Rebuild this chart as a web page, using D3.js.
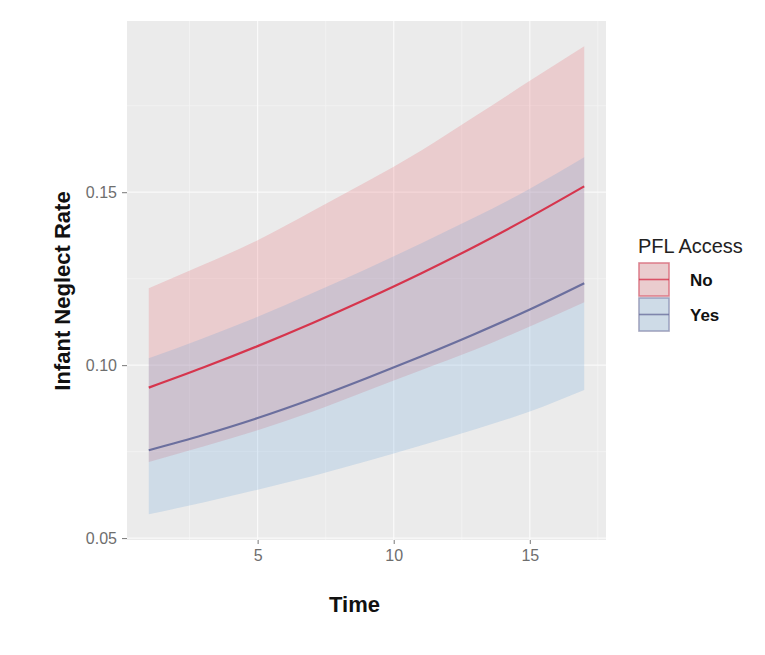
<!DOCTYPE html>
<html>
<head>
<meta charset="utf-8">
<script src="https://cdn.jsdelivr.net/npm/d3@7"></script>
<style>
  html, body { margin: 0; padding: 0; background: #ffffff; }
  svg { display: block; }
</style>
</head>
<body>
<svg id="chart" width="765" height="655"></svg>
<script>
// Time points of the model predictions
const times = [1, 3, 5, 7, 9, 11, 13, 15, 17];

// PFL Access = No : predicted rate and confidence band
const noFit   = [0.0935, 0.0993, 0.1055, 0.1121, 0.1191, 0.1265, 0.1344, 0.1428, 0.1517];
const noLower = [0.0720, 0.0765, 0.0812, 0.0865, 0.0925, 0.0985, 0.1045, 0.1112, 0.1182];
const noUpper = [0.1222, 0.1290, 0.1361, 0.1445, 0.1530, 0.1620, 0.1720, 0.1822, 0.1922];

// PFL Access = Yes : predicted rate and confidence band
const yesFit   = [0.0754, 0.0798, 0.0847, 0.0902, 0.0962, 0.1025, 0.1091, 0.1161, 0.1237];
const yesLower = [0.0569, 0.0603, 0.0640, 0.0679, 0.0722, 0.0768, 0.0815, 0.0866, 0.0928];
const yesUpper = [0.1020, 0.1078, 0.1140, 0.1208, 0.1278, 0.1352, 0.1428, 0.1510, 0.1601];

const groups = ["No", "Yes"];
const xTicks = [5, 10, 15];
const yTicks = [0.05, 0.10, 0.15];
const xMinor = [2.5, 7.5, 12.5, 17.5];
const yMinor = [0.075, 0.125, 0.175];

const lineColor = { No: "#d6354d", Yes: "#6b6f9e" };
const bandColor = { No: "#e8505b", Yes: "#5b9bd5" };

const series = [
  { key: "No",  fit: noFit,  lo: noLower,  hi: noUpper },
  { key: "Yes", fit: yesFit, lo: yesLower, hi: yesUpper }
];

const FONT = "'Liberation Sans', Arial, sans-serif";
const panel = { left: 127, right: 606, top: 21, bottom: 540 };
const svg = d3.select("#chart");

const x = d3.scaleLinear().domain([0.2, 17.8]).range([panel.left, panel.right]);
const y = d3.scaleLinear().domain([0.04945, 0.1995]).range([panel.bottom, panel.top]);

// Panel background
svg.append("rect")
  .attr("x", panel.left).attr("y", panel.top)
  .attr("width", panel.right - panel.left).attr("height", panel.bottom - panel.top)
  .attr("fill", "#ebebeb");

// Grid lines
const grid = svg.append("g");
grid.selectAll(".vmin").data(xMinor).join("line")
  .attr("x1", d => x(d)).attr("x2", d => x(d))
  .attr("y1", panel.top).attr("y2", panel.bottom)
  .attr("stroke", "#f4f4f4").attr("stroke-width", 0.8);
grid.selectAll(".hmin").data(yMinor).join("line")
  .attr("y1", d => y(d)).attr("y2", d => y(d))
  .attr("x1", panel.left).attr("x2", panel.right)
  .attr("stroke", "#f4f4f4").attr("stroke-width", 0.8);
grid.selectAll(".vmaj").data(xTicks).join("line")
  .attr("x1", d => x(d)).attr("x2", d => x(d))
  .attr("y1", panel.top).attr("y2", panel.bottom)
  .attr("stroke", "#fafafa").attr("stroke-width", 1.2);
grid.selectAll(".hmaj").data(yTicks).join("line")
  .attr("y1", d => y(d)).attr("y2", d => y(d))
  .attr("x1", panel.left).attr("x2", panel.right)
  .attr("stroke", "#fafafa").attr("stroke-width", 1.2);

// Confidence ribbons
const area = d3.area()
  .x(d => x(d.t)).y0(d => y(d.lo)).y1(d => y(d.hi))
  .curve(d3.curveMonotoneX);
const line = d3.line()
  .x(d => x(d.t)).y(d => y(d.v))
  .curve(d3.curveMonotoneX);

series.forEach(s => {
  const pts = times.map((t, i) => ({ t, lo: s.lo[i], hi: s.hi[i] }));
  svg.append("path").datum(pts)
    .attr("d", area)
    .attr("fill", bandColor[s.key]).attr("fill-opacity", 0.2);
});
series.forEach(s => {
  const pts = times.map((t, i) => ({ t, v: s.fit[i] }));
  svg.append("path").datum(pts)
    .attr("d", line)
    .attr("fill", "none")
    .attr("stroke", lineColor[s.key]).attr("stroke-width", 2.2);
});

// Axes
const xAxis = svg.append("g")
  .attr("transform", `translate(0,${panel.bottom})`)
  .call(d3.axisBottom(x).tickValues(xTicks).tickSize(4).tickPadding(6).tickFormat(d3.format("d")));
const yAxis = svg.append("g")
  .attr("transform", `translate(${panel.left},0)`)
  .call(d3.axisLeft(y).tickValues(yTicks).tickSize(5).tickPadding(5).tickFormat(d3.format(".2f")));
[xAxis, yAxis].forEach(a => {
  a.select(".domain").remove();
  a.selectAll(".tick line").attr("stroke", "#777777").attr("stroke-width", 1);
  a.selectAll(".tick text")
    .attr("fill", "#6e6e6e")
    .style("font-family", FONT)
    .style("font-size", "16px");
});

// Axis titles
svg.append("text")
  .attr("x", (panel.left + panel.right) / 2 - 12).attr("y", 612)
  .attr("text-anchor", "middle")
  .style("font-family", FONT)
  .style("font-size", "22px").style("font-weight", "bold")
  .attr("fill", "#111111")
  .text("Time");
svg.append("text")
  .attr("transform", `translate(70,${291}) rotate(-90)`)
  .attr("text-anchor", "middle")
  .style("font-family", FONT)
  .style("font-size", "22px").style("font-weight", "bold")
  .attr("fill", "#111111")
  .text("Infant Neglect Rate");

// Legend
const legend = svg.append("g").attr("transform", "translate(638,0)");
legend.append("text")
  .attr("x", 0).attr("y", 253)
  .style("font-family", FONT)
  .style("font-size", "20px")
  .attr("fill", "#222222")
  .text("PFL Access");

const keyY = d3.scaleBand().domain(groups).range([262, 332]);
groups.forEach(g => {
  const ky = keyY(g), kh = keyY.bandwidth();
  const key = legend.append("g");
  key.append("rect")
    .attr("x", 0).attr("y", ky).attr("width", 32).attr("height", kh)
    .attr("fill", "#ebebeb");
  key.append("rect")
    .attr("x", 1).attr("y", ky + 1).attr("width", 30).attr("height", kh - 2)
    .attr("fill", bandColor[g]).attr("fill-opacity", 0.2)
    .attr("stroke", lineColor[g]).attr("stroke-opacity", 0.55).attr("stroke-width", 1.5);
  key.append("line")
    .attr("x1", 1).attr("x2", 31)
    .attr("y1", ky + kh / 2).attr("y2", ky + kh / 2)
    .attr("stroke", lineColor[g]).attr("stroke-width", 1.6).attr("stroke-opacity", 0.8);
  legend.append("text")
    .attr("x", 52).attr("y", ky + kh / 2 + 6)
    .style("font-family", FONT)
    .style("font-size", "17px").style("font-weight", "bold")
    .attr("fill", "#111111")
    .text(g);
});
</script>
</body>
</html>
